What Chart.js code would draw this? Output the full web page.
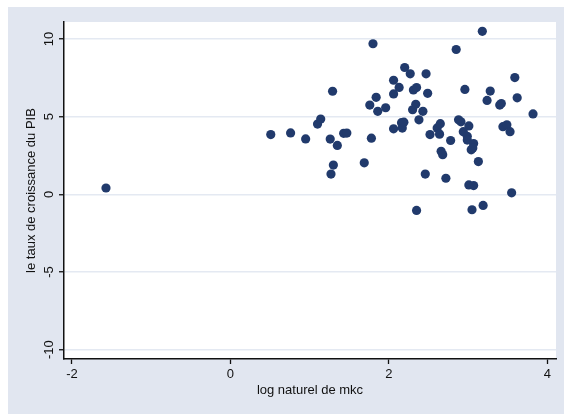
<!DOCTYPE html>
<html>
<head>
<meta charset="utf-8">
<script src="https://cdn.jsdelivr.net/npm/chart.js@4/dist/chart.umd.min.js"></script>
<style>
  html, body { margin: 0; padding: 0; background: #fff; }
  #wrap { position: absolute; left: 8px; top: 7px; width: 556px; height: 407px; background: #e1e6f0; }
</style>
</head>
<body>
<div id="wrap"><canvas id="c"></canvas></div>
<script>
// log naturel de mkc (x) vs le taux de croissance du PIB (y)
const mkcLog = [
  -1.57, 0.51, 0.76, 0.95, 1.10, 1.14, 1.26, 1.29, 1.27, 1.30, 1.35, 1.43, 1.47,
  1.69, 1.76, 1.78, 1.80, 1.84, 1.86, 1.96, 2.06, 2.06, 2.06, 2.13, 2.16, 2.17,
  2.19, 2.20, 2.27, 2.31, 2.35, 2.30, 2.34, 2.38, 2.35, 2.43, 2.47, 2.49, 2.46,
  2.52, 2.61, 2.65, 2.64, 2.66, 2.68, 2.72, 2.78, 2.85, 2.88, 2.91, 2.96, 2.94,
  3.01, 2.99, 2.99, 3.04, 3.07, 3.06, 3.01, 3.07, 3.05, 3.13, 3.18, 3.19, 3.24,
  3.28, 3.40, 3.42, 3.44, 3.49, 3.53, 3.55, 3.59, 3.62, 3.82
]
const pibGrowth = [
  0.41, 3.85, 3.96, 3.57, 4.53, 4.85, 3.56, 6.64, 1.31, 1.89, 3.15, 3.93, 3.95,
  2.03, 5.75, 3.62, 9.70, 6.25, 5.35, 5.58, 7.35, 6.47, 4.22, 6.89, 4.62, 4.27,
  4.65, 8.17, 7.76, 6.72, 6.88, 5.45, 5.80, 4.80, -1.03, 5.35, 7.76, 6.51, 1.31,
  3.85, 4.28, 4.55, 3.88, 2.77, 2.56, 1.04, 3.47, 9.33, 4.80, 4.67, 6.76, 4.04,
  4.41, 3.74, 3.50, 2.87, 3.27, 2.98, 0.61, 0.57, -0.99, 2.11, 10.50, -0.71, 6.05,
  6.65, 5.75, 5.85, 4.36, 4.48, 4.04, 0.10, 7.52, 6.22, 5.18
]
const xTicks = [-2, 0, 2, 4]
const yTicks = [-10, -5, 0, 5, 10]

const points = mkcLog.map((x, i) => ({ x, y: pibGrowth[i] }))
const fontFam = "'Liberation Sans', Arial, sans-serif"
const ink = '#111'

// white plot region + rotated y tick labels (Stata style)
const stataLook = {
  id: 'stataLook',
  beforeDraw(chart) {
    const { ctx, chartArea: a } = chart
    ctx.save()
    ctx.fillStyle = '#fff'
    ctx.fillRect(a.left, a.top, a.right - a.left, a.bottom - a.top)
    ctx.restore()
  },
  afterDraw(chart) {
    const { ctx } = chart
    const ys = chart.scales.y
    ctx.save()
    ctx.fillStyle = ink
    ctx.font = `13px ${fontFam}`
    ctx.textAlign = 'center'
    ctx.textBaseline = 'middle'
    ys.ticks.forEach((t) => {
      const py = ys.getPixelForValue(t.value)
      ctx.save()
      ctx.translate(ys.right - 15, py)
      ctx.rotate(-Math.PI / 2)
      ctx.fillText(String(t.value), 0, 0)
      ctx.restore()
    })
    ctx.restore()
  },
}

new Chart(document.getElementById('c'), {
  type: 'scatter',
  data: {
    datasets: [
      {
        data: points,
        backgroundColor: '#213a6c',
        borderWidth: 0,
        pointRadius: 4.6,
        pointHoverRadius: 4.6,
      },
    ],
  },
  options: {
    responsive: true,
    maintainAspectRatio: false,
    animation: false,
    layout: { padding: { top: 15, right: 8, left: 0, bottom: 0 } },
    plugins: { legend: { display: false }, tooltip: { enabled: false } },
    scales: {
      x: {
        type: 'linear',
        min: -2.1,
        max: 4.11,
        afterBuildTicks: (s) => { s.ticks = xTicks.map((v) => ({ value: v })) },
        afterFit: (s) => { s.height = 55 },
        grid: { drawOnChartArea: false, drawTicks: true, tickLength: 5, tickColor: ink, tickWidth: 1.3 },
        border: { color: ink, width: 1.5 },
        ticks: { color: ink, padding: 3, font: { family: fontFam, size: 13 } },
        title: {
          display: true,
          text: 'log naturel de mkc',
          color: ink,
          font: { family: fontFam, size: 13 },
          padding: { top: 0, bottom: 16 },
        },
      },
      y: {
        type: 'linear',
        min: -10.6,
        max: 11.1,
        afterBuildTicks: (s) => { s.ticks = yTicks.map((v) => ({ value: v })) },
        afterFit: (s) => { s.width = 56 },
        grid: { color: '#e4e9f2', lineWidth: 1.5, drawTicks: true, tickLength: 5, tickColor: ink, tickWidth: 1.3 },
        border: { color: ink, width: 1.5 },
        ticks: { color: 'rgba(0,0,0,0)', font: { family: fontFam, size: 13 } },
        title: {
          display: true,
          text: 'le taux de croissance du PIB',
          color: ink,
          font: { family: fontFam, size: 13 },
          padding: { top: 16, bottom: 0 },
        },
      },
    },
  },
  plugins: [stataLook],
})
</script>
</body>
</html>
